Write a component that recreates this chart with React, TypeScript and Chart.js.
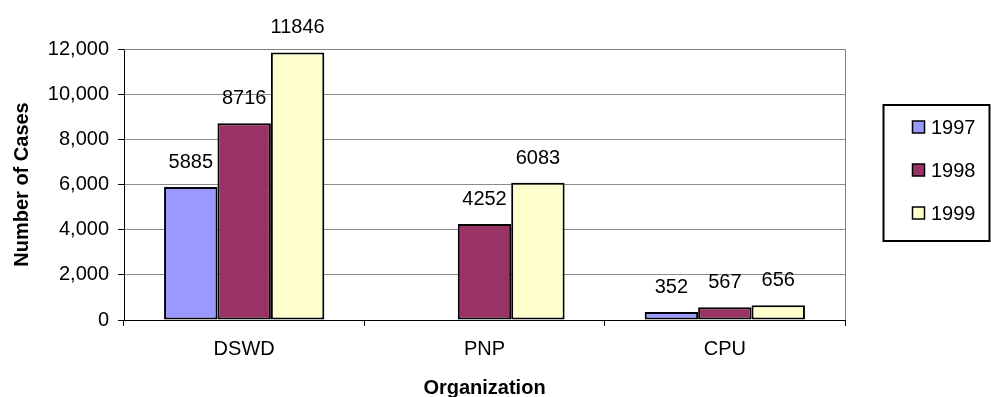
import React, { useEffect, useRef } from "react";
import { Chart, registerables } from "chart.js";

Chart.register(...registerables);

const categories = ["DSWD", "PNP", "CPU"];
const seriesNames = ["1997", "1998", "1999"];
const values1997: (number | null)[] = [5885, null, 352];
const values1998: (number | null)[] = [8716, 4252, 567];
const values1999: (number | null)[] = [11846, 6083, 656];
const seriesColors = ["#9999FF", "#993366", "#FFFFCC"];
const yMin = 0;
const yMax = 12000;
const yStep = 2000;
const xTitle = "Organization";
const yTitle = "Number of Cases";

const FONT = "'Liberation Sans', Arial, sans-serif";

const plotBorder = {
  id: "plotBorder",
  beforeDatasetsDraw(chart: any) {
    const { ctx, chartArea } = chart;
    ctx.save();
    ctx.strokeStyle = "#808080";
    ctx.lineWidth = 1;
    ctx.beginPath();
    ctx.moveTo(chartArea.left, chartArea.top + 0.5);
    ctx.lineTo(chartArea.right + 0.5, chartArea.top + 0.5);
    ctx.lineTo(chartArea.right + 0.5, chartArea.bottom);
    ctx.stroke();
    ctx.restore();
  },
};

const dataLabels = {
  id: "dataLabels",
  afterDatasetsDraw(chart: any) {
    const { ctx } = chart;
    ctx.save();
    ctx.font = `20px ${FONT}`;
    ctx.fillStyle = "#000";
    ctx.textAlign = "center";
    ctx.textBaseline = "middle";
    chart.data.datasets.forEach((ds: any, di: number) => {
      const meta = chart.getDatasetMeta(di);
      meta.data.forEach((bar: any, i: number) => {
        const v = ds.data[i];
        if (v === null || v === undefined) return;
        ctx.fillText(String(v), bar.x, bar.y - 24.5);
      });
    });
    ctx.restore();
  },
};

const legendBox = {
  id: "legendBox",
  afterDraw(chart: any) {
    const { ctx } = chart;
    const left = 883.5;
    const top = 105;
    const right = 989.5;
    const bottom = 241;
    const rows = [127, 170, 213];
    ctx.save();
    ctx.fillStyle = "#fff";
    ctx.fillRect(left, top, right - left, bottom - top);
    ctx.strokeStyle = "#000";
    ctx.lineWidth = 2;
    ctx.strokeRect(left, top, right - left, bottom - top);
    ctx.font = `20px ${FONT}`;
    ctx.textAlign = "left";
    ctx.textBaseline = "middle";
    chart.data.datasets.forEach((ds: any, i: number) => {
      const y = rows[i];
      ctx.fillStyle = ds.backgroundColor;
      ctx.fillRect(912.5, y - 6, 12, 12);
      ctx.strokeStyle = "#000";
      ctx.lineWidth = 1.5;
      ctx.strokeRect(912.5, y - 6, 12, 12);
      ctx.fillStyle = "#000";
      ctx.fillText(ds.label, 931, y + 1);
    });
    ctx.restore();
  },
};

export default function App() {
  const ref = useRef<HTMLCanvasElement>(null);
  useEffect(() => {
    if (!ref.current) return;
    const series = [values1997, values1998, values1999];
    const chart = new Chart(ref.current, {
      type: "bar",
      data: {
        labels: categories,
        datasets: series.map((vals, i) => ({
          label: seriesNames[i],
          data: vals,
          backgroundColor: seriesColors[i],
          borderColor: "#000",
          borderWidth: 2,
          borderSkipped: false,
          categoryPercentage: 3 / 4.5,
          barPercentage: 1,
        })),
      },
      options: {
        responsive: false,
        animation: false,
        layout: { padding: { top: 49, right: 146, left: 0, bottom: 0 } },
        plugins: {
          legend: { display: false },
          tooltip: { enabled: false },
        },
        scales: {
          x: {
            afterFit: (s: any) => {
              s.height = 77;
            },
            grid: {
              display: true,
              offset: true,
              drawOnChartArea: false,
              drawTicks: true,
              tickLength: 6,
              tickColor: "#000",
            },
            border: { color: "#000", width: 1 },
            ticks: {
              color: "#000",
              font: { family: FONT, size: 20 },
              padding: 11,
              maxRotation: 0,
            },
            title: {
              display: true,
              text: xTitle,
              color: "#000",
              font: { family: FONT, size: 20, weight: "bold" },
              padding: { top: 0, bottom: -3 },
            },
          },
          y: {
            min: yMin,
            max: yMax,
            afterFit: (s: any) => {
              s.width = 124;
            },
            grid: {
              color: "#8c8c8c",
              tickColor: "#000",
              tickLength: 6,
              lineWidth: 1,
            },
            border: { color: "#000", width: 1 },
            ticks: {
              stepSize: yStep,
              color: "#000",
              font: { family: FONT, size: 20 },
              padding: 9,
              callback: (v: any) => Number(v).toLocaleString("en-US"),
            },
            title: {
              display: true,
              text: yTitle,
              color: "#000",
              font: { family: FONT, size: 20, weight: "bold" },
              padding: { top: 10, bottom: 0 },
            },
          },
        },
      },
      plugins: [plotBorder, dataLabels, legendBox],
    } as any);
    return () => chart.destroy();
  }, []);
  return (
    <div style={{ position: "fixed", left: 0, top: 0, width: 991, height: 397, background: "#fff" }}>
      <canvas ref={ref} width={991} height={397} />
    </div>
  );
}
